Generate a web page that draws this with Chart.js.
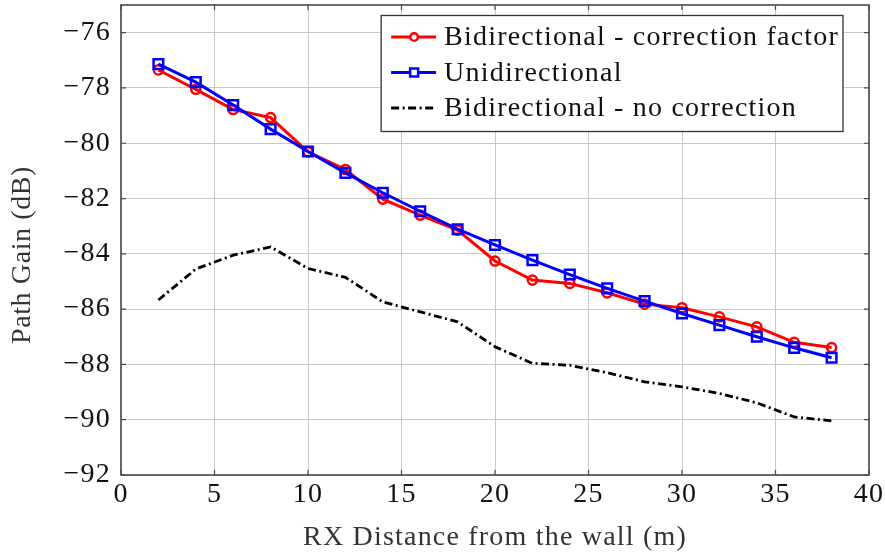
<!DOCTYPE html>
<html>
<head>
<meta charset="utf-8">
<script src="https://cdn.jsdelivr.net/npm/chart.js@4.4.1/dist/chart.umd.min.js"></script>
<style>
  html, body { margin: 0; padding: 0; background: #fff; }
  canvas { display: block; }
</style>
</head>
<body>
<canvas id="chart" width="885" height="554"></canvas>
<script>
// RX positions (m) and measured path gain (dB)
const distances = [2, 4, 6, 8, 10, 12, 14, 16, 18, 20, 22, 24, 26, 28, 30, 32, 34, 36, 38];
const gainCorrected = [-77.35, -78.05, -78.78, -79.07, -80.31, -80.95, -82.02, -82.6, -83.14, -84.26,
  -84.95, -85.07, -85.41, -85.82, -85.95, -86.28, -86.64, -87.2, -87.39];
const gainUnidirectional = [-77.14, -77.79, -78.62, -79.49, -80.3, -81.07, -81.79, -82.46, -83.11, -83.68,
  -84.23, -84.75, -85.25, -85.71, -86.16, -86.58, -87.0, -87.4, -87.76];
const gainNoCorrection = [-85.67, -84.55, -84.05, -83.75, -84.53, -84.85, -85.74, -86.1, -86.46, -87.36,
  -87.96, -88.03, -88.3, -88.63, -88.81, -89.05, -89.39, -89.9, -90.04];
const seriesNames = ['Bidirectional - correction factor', 'Unidirectional', 'Bidirectional - no correction'];
const xTicks = [0, 5, 10, 15, 20, 25, 30, 35, 40];
const yTicks = [-92, -90, -88, -86, -84, -82, -80, -78, -76];
const yTitle = 'Path Gain (dB)';

const serif = "'Liberation Serif', 'DejaVu Serif', serif";
const fmt = v => (v < 0 ? '\u2212' + Math.abs(v) : String(v));
const toPoints = ys => distances.map((x, i) => ({ x: x, y: ys[i] }));

// slightly wider text, closer to the TeX look
const spacingPlugin = {
  id: 'spacing',
  beforeUpdate(chart) { chart.ctx.letterSpacing = '1.2px'; },
  beforeDraw(chart) { chart.ctx.letterSpacing = '1.2px'; }
};

// frame, inward tick marks, y title and boxed legend
const framePlugin = {
  id: 'frame',
  afterDatasetsDraw(chart) {
    const { ctx, chartArea: a, scales } = chart;
    ctx.save();
    ctx.strokeStyle = '#4a4a4a';
    ctx.lineWidth = 1.2;
    ctx.beginPath();
    xTicks.forEach(v => {
      const px = scales.x.getPixelForValue(v);
      ctx.moveTo(px, a.bottom); ctx.lineTo(px, a.bottom - 5);
      ctx.moveTo(px, a.top); ctx.lineTo(px, a.top + 5);
    });
    yTicks.forEach(v => {
      const py = scales.y.getPixelForValue(v);
      ctx.moveTo(a.left, py); ctx.lineTo(a.left + 5, py);
      ctx.moveTo(a.right, py); ctx.lineTo(a.right - 5, py);
    });
    ctx.stroke();
    ctx.lineWidth = 1.6;
    ctx.strokeRect(a.left, a.top, a.right - a.left, a.bottom - a.top);

    // y axis title
    ctx.save();
    ctx.font = '28px ' + serif;
    ctx.letterSpacing = '0.6px';
    ctx.fillStyle = '#333';
    ctx.textAlign = 'center';
    ctx.textBaseline = 'middle';
    ctx.translate(23, 255);
    ctx.rotate(-Math.PI / 2);
    ctx.fillText(yTitle, 0, 0);
    ctx.restore();

    // legend
    ctx.font = '28px ' + serif;
    const widths = seriesNames.map(n => ctx.measureText(n).width);
    const boxW = 63 + Math.max(...widths) + 4;
    const boxH = 116;
    const bx = a.right - 26 - boxW;
    const by = a.top + 10.5;
    ctx.fillStyle = '#fff';
    ctx.fillRect(bx, by, boxW, boxH);
    ctx.strokeStyle = '#333';
    ctx.lineWidth = 1.3;
    ctx.strokeRect(bx, by, boxW, boxH);
    chart.data.datasets.forEach((ds, i) => {
      const cy = by + 21.5 + i * 35.5;
      ctx.save();
      ctx.strokeStyle = ds.borderColor;
      ctx.lineWidth = ds.borderWidth;
      ctx.setLineDash(ds.borderDash || []);
      ctx.beginPath();
      ctx.moveTo(bx + 10, cy); ctx.lineTo(bx + 55, cy);
      ctx.stroke();
      ctx.setLineDash([]);
      if (ds.pointRadius > 0) {
        ctx.fillStyle = '#fff';
        ctx.lineWidth = ds.pointBorderWidth;
        const mx = bx + 33;
        if (ds.pointStyle === 'rect') {
          ctx.fillRect(mx - 4, cy - 4, 8, 8);
          ctx.strokeRect(mx - 4, cy - 4, 8, 8);
        } else {
          ctx.beginPath(); ctx.arc(mx, cy, 3.8, 0, Math.PI * 2);
          ctx.fill(); ctx.stroke();
        }
      }
      ctx.restore();
      ctx.fillStyle = '#111';
      ctx.textBaseline = 'middle';
      ctx.fillText(seriesNames[i], bx + 63, cy + 1);
    });
    ctx.restore();
  }
};

new Chart(document.getElementById('chart'), {
  type: 'line',
  data: {
    datasets: [
      {
        label: seriesNames[0], data: toPoints(gainCorrected), order: 3,
        borderColor: '#ff0000', borderWidth: 3,
        pointStyle: 'circle', pointRadius: 4.6, pointBorderWidth: 2.5,
        pointBackgroundColor: 'rgba(255,255,255,0)', pointBorderColor: '#ff0000'
      },
      {
        label: seriesNames[1], data: toPoints(gainUnidirectional), order: 2,
        borderColor: '#0000ff', borderWidth: 3,
        pointStyle: 'rect', pointRadius: 6.8, pointBorderWidth: 2.5,
        pointBackgroundColor: 'rgba(255,255,255,0)', pointBorderColor: '#0000ff'
      },
      {
        label: seriesNames[2], data: toPoints(gainNoCorrection), order: 1,
        borderColor: '#000000', borderWidth: 2.8, borderDash: [8, 3.5, 2, 3.5],
        pointRadius: 0, pointBorderWidth: 0
      }
    ]
  },
  options: {
    responsive: false,
    animation: false,
    layout: { autoPadding: false, padding: { top: 5, right: 16, left: 0, bottom: 0 } },
    plugins: { legend: { display: false }, tooltip: { enabled: false } },
    elements: { line: { tension: 0, fill: false } },
    scales: {
      x: {
        type: 'linear', min: 0, max: 40,
        afterBuildTicks: s => { s.ticks = xTicks.map(v => ({ value: v })); },
        afterFit: s => { s.height = 79; s.paddingLeft = 0; s.paddingRight = 0; },
        grid: { color: '#c8c8c8', lineWidth: 1, drawTicks: false },
        border: { display: false },
        ticks: { color: '#111', padding: 3, font: { family: serif, size: 28 }, callback: fmt, maxRotation: 0 },
        title: { display: true, text: 'RX Distance from the wall (m)', color: '#333',
          font: { family: serif, size: 28 }, padding: { top: 4, bottom: 0 } }
      },
      y: {
        type: 'linear', min: -92, max: -75,
        afterBuildTicks: s => { s.ticks = yTicks.map(v => ({ value: v })); },
        afterFit: s => { s.width = 121; s.paddingTop = 0; s.paddingBottom = 0; },
        grid: { color: '#c8c8c8', lineWidth: 1, drawTicks: false },
        border: { display: false },
        ticks: { color: '#111', padding: 10, font: { family: serif, size: 28 }, callback: fmt },
        title: { display: false }
      }
    }
  },
  plugins: [spacingPlugin, framePlugin]
});
</script>
</body>
</html>
